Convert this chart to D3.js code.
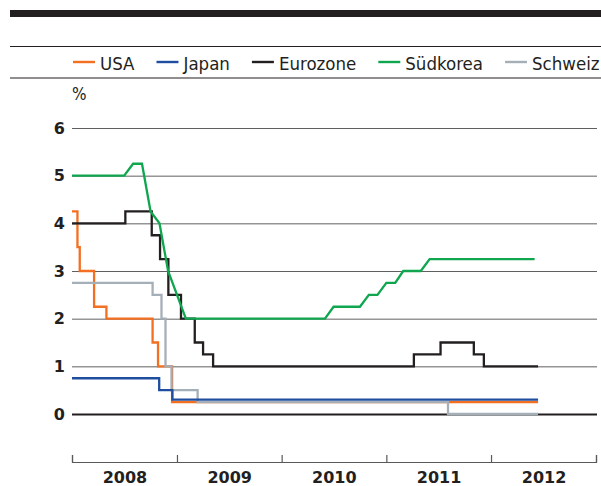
<!DOCTYPE html>
<html>
<head>
<meta charset="utf-8">
<script src="https://cdn.jsdelivr.net/npm/d3@7"></script>
<style>
body { margin: 0; background: #fff; }
</style>
</head>
<body>
<div id="chart-area"></div>
<script>
var names = ["USA", "Japan", "Eurozone", "Südkorea", "Schweiz"];

var usaDates = ["2008-01-01", "2008-01-20", "2008-01-28", "2008-03-18", "2008-04-30", "2008-10-08", "2008-10-27", "2008-12-15", "2012-06-13"];
var usaRates = [4.25, 3.5, 3.0, 2.25, 2.0, 1.5, 1.0, 0.25, 0.25];

var japanDates = ["2008-01-01", "2008-10-31", "2008-12-16", "2012-06-13"];
var japanRates = [0.75, 0.5, 0.3, 0.3];

var euroDates = ["2008-01-01", "2008-07-05", "2008-10-05", "2008-11-03", "2008-12-02", "2009-01-15", "2009-03-04", "2009-04-02", "2009-05-07", "2011-04-07", "2011-07-09", "2011-11-02", "2011-12-07", "2012-06-13"];
var euroRates = [4.0, 4.25, 3.75, 3.25, 2.5, 2.0, 1.5, 1.25, 1.0, 1.25, 1.5, 1.25, 1.0, 1.0];

var koreaDates = ["2008-01-01", "2008-07-01", "2008-08-01", "2008-09-01", "2008-10-01", "2008-11-01", "2008-12-01", "2009-02-01", "2010-06-01", "2010-07-01", "2010-10-01", "2010-11-01", "2010-12-01", "2011-01-01", "2011-02-01", "2011-03-01", "2011-05-01", "2011-06-01", "2012-06-01"];
var koreaRates = [5.0, 5.0, 5.25, 5.25, 4.25, 4.0, 3.0, 2.0, 2.0, 2.25, 2.25, 2.5, 2.5, 2.75, 2.75, 3.0, 3.0, 3.25, 3.25];

var swissDates = ["2008-01-01", "2008-10-08", "2008-11-08", "2008-11-22", "2008-12-13", "2009-03-14", "2011-08-04", "2012-06-13"];
var swissRates = [2.75, 2.5, 2.0, 1.0, 0.5, 0.25, 0.0, 0.0];

var yTicks = [0, 1, 2, 3, 4, 5, 6];
var years = [2008, 2009, 2010, 2011, 2012];

var width = 601;
var height = 486;
var ink = "#231f20";
var legendFont = "'DejaVu Sans Condensed', 'DejaVu Sans', sans-serif";
var boldFont = "'DejaVu Sans', sans-serif";

var colors = d3.scaleOrdinal()
    .domain(names)
    .range(["#f36f21", "#1f4e9f", ink, "#10a650", "#a5afb8"]);

var parse = d3.timeParse("%Y-%m-%d");

function series(dates, rates) {
    return dates.map((d, i) => ({ date: parse(d), value: rates[i] }));
}

var data = {
    "USA": series(usaDates, usaRates),
    "Japan": series(japanDates, japanRates),
    "Eurozone": series(euroDates, euroRates),
    "Südkorea": series(koreaDates, koreaRates),
    "Schweiz": series(swissDates, swissRates)
};

var svg = d3.select("#chart-area")
    .append("svg")
    .attr("width", width)
    .attr("height", height);

// header rules
svg.append("rect")
    .attr("x", 10).attr("y", 10)
    .attr("width", width - 10).attr("height", 7)
    .attr("fill", ink);
svg.append("line")
    .attr("x1", 10).attr("x2", width)
    .attr("y1", 46.5).attr("y2", 46.5)
    .attr("stroke", ink).attr("stroke-width", 1);
svg.append("line")
    .attr("x1", 10).attr("x2", width)
    .attr("y1", 78).attr("y2", 78)
    .attr("stroke", ink).attr("stroke-width", 1.2);

// legend
var lx = 73;
names.forEach((name) => {
    svg.append("line")
        .attr("x1", lx).attr("x2", lx + 22)
        .attr("y1", 62).attr("y2", 62)
        .attr("stroke", colors(name))
        .attr("stroke-width", 2.4);
    var label = svg.append("text")
        .attr("x", lx + 27)
        .attr("y", 69.5)
        .attr("font-family", legendFont)
        .attr("font-stretch", "condensed")
        .attr("font-size", "18.5px")
        .attr("fill", ink)
        .text(name);
    lx += 27 + label.node().getComputedTextLength() + 22;
});

var x = d3.scaleTime()
    .domain([new Date(2008, 0, 1), new Date(2013, 0, 1)])
    .range([72, 596]);

var y = d3.scaleLinear()
    .domain([0, 6])
    .range([414, 128]);

// y axis with gridlines
var yAxisGroup = svg.append("g")
    .attr("transform", "translate(72, 0)")
    .call(d3.axisLeft(y)
        .tickValues(yTicks)
        .tickSize(-525)
        .tickPadding(7)
        .tickFormat(d3.format("d")));
yAxisGroup.select(".domain").remove();
yAxisGroup.selectAll(".tick line")
    .attr("stroke", (d) => d === 0 ? ink : "#606062")
    .attr("stroke-width", (d) => d === 0 ? 2.2 : 1);
yAxisGroup.selectAll(".tick text")
    .attr("font-family", boldFont)
    .attr("font-weight", "bold")
    .attr("font-size", "16px")
    .attr("fill", ink);

svg.append("text")
    .attr("x", 72)
    .attr("y", 100)
    .attr("font-family", legendFont)
    .attr("font-stretch", "condensed")
    .attr("font-size", "17px")
    .attr("fill", ink)
    .text("%");

// x axis: year boundaries as ticks, labels mid-year
var yearStarts = years.concat([years[years.length - 1] + 1]).map((yr) => new Date(yr, 0, 1));
var xAxisGroup = svg.append("g")
    .attr("transform", "translate(0, 462)")
    .call(d3.axisTop(x).tickValues(yearStarts).tickSize(7).tickSizeOuter(7).tickFormat(""));
xAxisGroup.selectAll("path, line")
    .attr("stroke", "#58595b")
    .attr("stroke-width", 1.2);

var labelGroup = svg.append("g")
    .attr("transform", "translate(0, 462)")
    .call(d3.axisBottom(x)
        .tickValues(years.map((yr) => new Date(yr, 6, 2)))
        .tickSize(0)
        .tickPadding(10)
        .tickFormat(d3.timeFormat("%Y")));
labelGroup.select(".domain").remove();
labelGroup.selectAll(".tick text")
    .attr("font-family", boldFont)
    .attr("font-weight", "bold")
    .attr("font-size", "16px")
    .attr("fill", ink);

// lines
var stepLine = d3.line()
    .x((d) => x(d.date))
    .y((d) => y(d.value))
    .curve(d3.curveStepAfter);

var straightLine = d3.line()
    .x((d) => x(d.date))
    .y((d) => y(d.value));

var drawOrder = ["USA", "Schweiz", "Japan", "Eurozone", "Südkorea"];
drawOrder.forEach((name) => {
    svg.append("path")
        .datum(data[name])
        .attr("fill", "none")
        .attr("stroke", colors(name))
        .attr("stroke-width", 2.3)
        .attr("stroke-linejoin", "miter")
        .attr("d", name === "Südkorea" ? straightLine : stepLine);
});
</script>
</body>
</html>
